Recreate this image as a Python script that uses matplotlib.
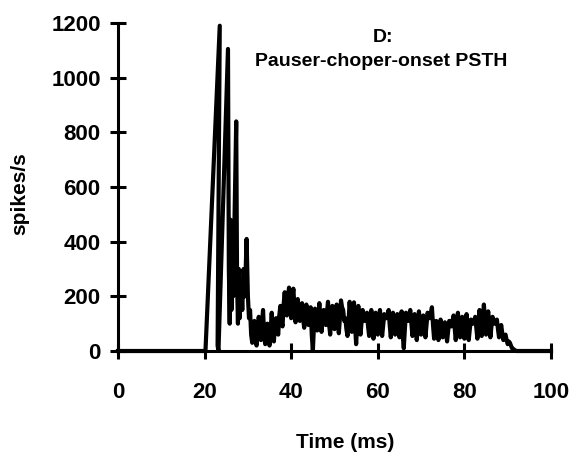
import matplotlib
matplotlib.use('Agg')
import matplotlib.pyplot as plt
import numpy as np

#=====================================================

# onset part (time in ms, rate in spikes/s)
onset_t = [0.0, 19.8, 20.2, 23.5, 23.0, 23.2, 25.4, 25.6, 25.8, 26.0, 26.2,
           26.4, 26.6, 27.3, 27.5, 27.7, 27.9, 28.1, 28.4, 28.7, 29.0, 29.3,
           29.7, 30.0, 30.25]
onset_rate = [0, 0, 0, 1190, 20, 0, 1105, 300, 100, 480, 150,
              400, 200, 840, 250, 100, 300, 120, 260, 150, 300, 200,
              410, 200, 120]

# sustained part, 0.25 ms bins starting at 30.5 ms
sus_start = 30.5
sus_bin = 0.25
sus_rate = [
    150, 60, 30, 90, 110, 45, 20, 70, 125, 80, 40, 100, 150, 55, 25, 85, 100, 40, 20, 75,
    140, 70, 35, 95, 120, 80, 60, 130, 165, 110, 90, 170, 215, 150, 130, 200, 232, 170, 120, 190,
    228, 160, 105, 150, 190, 140, 110, 160, 175, 120, 85, 130, 170, 125, 95, 140, 160, 60, 0, 90,
    155, 110, 75, 120, 175, 115, 70, 125, 150, 120, 95, 140, 180, 100, 60, 120, 165, 115, 80, 130,
    170, 110, 65, 120, 185, 160, 150, 110, 120, 80, 55, 110, 180, 120, 70, 130, 178, 90, 25, 100,
    165, 110, 60, 105, 150, 130, 110, 125, 140, 90, 55, 100, 150, 95, 45, 95, 140, 100, 60, 110,
    150, 100, 55, 95, 135, 125, 120, 130, 150, 95, 50, 100, 140, 100, 60, 100, 135, 90, 50, 95,
    145, 60, 10, 80, 140, 120, 110, 130, 150, 100, 55, 100, 135, 85, 40, 90, 145, 100, 60, 100,
    130, 90, 50, 95, 140, 125, 120, 140, 160, 95, 45, 80, 110, 75, 40, 80, 115, 80, 50, 85,
    105, 70, 35, 75, 110, 95, 90, 110, 130, 85, 40, 90, 140, 95, 50, 90, 125, 85, 45, 95,
    135, 85, 40, 80, 115, 105, 100, 110, 125, 85, 45, 100, 150, 100, 55, 110, 170, 110, 60, 115,
    145, 95, 50, 90, 125, 110, 100, 105, 115, 80, 50, 75, 95, 65, 40, 55, 60, 40, 25, 35,
    30, 20, 10, 8, 5, 2, 0,
]

tail_t = [100.0]
tail_rate = [0]

x_ticks = [0, 20, 40, 60, 80, 100]
y_ticks = [0, 200, 400, 600, 800, 1000, 1200]

#=====================================================

def main():
    t, rate = buildTrace()
    plotData(t, rate)

#-----------------------------------------------------

def buildTrace():
    sus_t = sus_start + sus_bin * np.arange(len(sus_rate))
    t = np.concatenate([onset_t, sus_t, tail_t])
    rate = np.concatenate([onset_rate, sus_rate, tail_rate])
    return t, rate

#-----------------------------------------------------

def plotData(t, rate):
    plt.rcParams['font.family'] = ['Liberation Sans', 'DejaVu Sans']
    plt.rcParams['font.weight'] = 'bold'

    fig = plt.figure(figsize=(5.74, 4.55), dpi=100)
    ax = fig.add_axes([118/574, 1 - 351/455, 433/574, 328/455])

    ax.plot(t, rate, color='black', linewidth=3.0, clip_on=False)

    ax.set_xlim(0, 100)
    ax.set_ylim(0, 1200)
    ax.set_xticks(x_ticks)
    ax.set_yticks(y_ticks)

    for side in ['top', 'right']:
        ax.spines[side].set_visible(False)
    for side in ['left', 'bottom']:
        ax.spines[side].set_linewidth(2.2)

    ax.tick_params(axis='both', direction='inout', length=11, width=2.2,
                   labelsize=16)
    ax.tick_params(axis='x', pad=17)
    ax.tick_params(axis='y', pad=7)
    for lab in ax.get_xticklabels() + ax.get_yticklabels():
        lab.set_fontweight('bold')

    ax.set_xlabel('Time (ms)', fontsize=15, fontweight='bold')
    ax.xaxis.set_label_coords((345 - 118) / 433, -0.25)
    ax.set_ylabel('spikes/s', fontsize=15, fontweight='bold')
    ax.yaxis.set_label_coords(-0.205, 0.479)

    fig.text(383/574, 1 - 37/455, 'D:', ha='center', va='center',
             fontsize=14, fontweight='bold')
    fig.text(381/574, 1 - 62/455, 'Pauser-choper-onset PSTH', ha='center',
             va='center', fontsize=14, fontweight='bold')

    fig.savefig('out.png', dpi=100)

#=====================================================

if __name__ == '__main__':
    main()
